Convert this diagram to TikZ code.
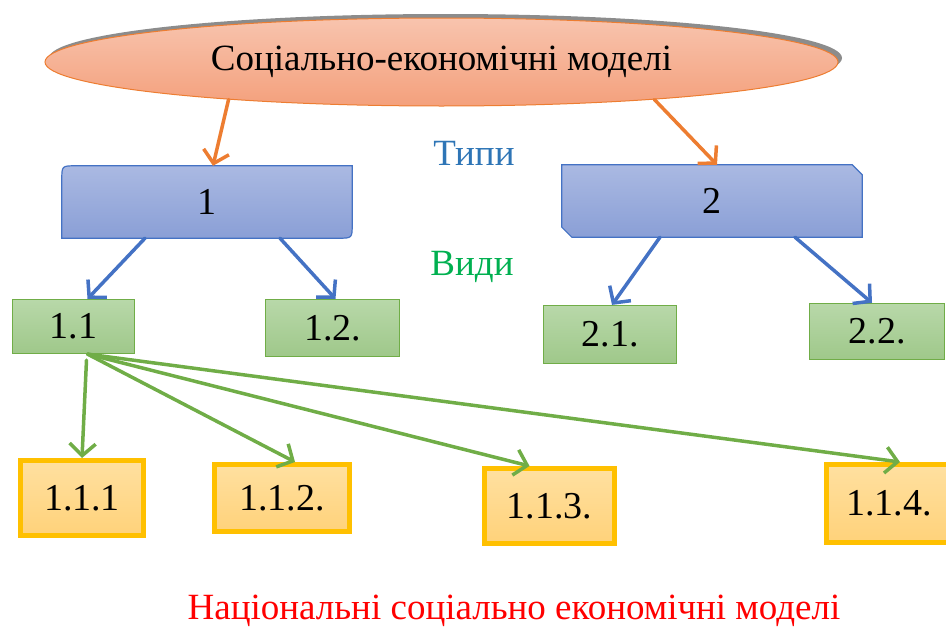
\documentclass[tikz,border=0pt]{standalone}
\usepackage{fontspec}
\setmainfont{Liberation Serif}
\usetikzlibrary{arrows.meta,shapes.geometric,shadows,calc,backgrounds}
\definecolor{ellborder}{HTML}{ED7D31}
\definecolor{elltop}{HTML}{F8C4AE}
\definecolor{ellbot}{HTML}{F4A07C}
\definecolor{bluedge}{HTML}{4472C4}
\definecolor{bluetop}{HTML}{AAB9E2}
\definecolor{bluebot}{HTML}{8A9FD6}
\definecolor{greenedge}{HTML}{70AD47}
\definecolor{greentop}{HTML}{B8D8A9}
\definecolor{greenbot}{HTML}{9FC88A}
\definecolor{goldedge}{HTML}{FFC000}
\definecolor{goldtop}{HTML}{FFE0A0}
\definecolor{goldbot}{HTML}{FFD27A}
\definecolor{tipycol}{HTML}{2E75B6}
\definecolor{vydycol}{HTML}{00B050}

\begin{document}
\begin{tikzpicture}[x=1pt,y=-1pt,
  bigfont/.style={font=\fontsize{38}{40}\selectfont},
  blueshape/.style={draw=bluedge,line width=1.2pt,top color=bluetop,bottom color=bluebot},
  greenbox/.style={bigfont,draw=greenedge,line width=1.2pt,top color=greentop,bottom color=greenbot,inner sep=0pt},
  goldbox/.style={bigfont,draw=goldedge,line width=5pt,top color=goldtop,bottom color=goldbot,inner sep=0pt},
  barb/.style={-{Straight Barb[length=12pt,width=26pt]},line width=3.5pt,line cap=round}]
\useasboundingbox (0,0) rectangle (946,632);

\node[ellipse,minimum width=793,minimum height=88,inner sep=0pt,draw=ellborder,line width=1pt,
  top color=elltop,bottom color=ellbot,
  drop shadow={shadow xshift=4pt,shadow yshift=4pt,fill=gray!90,opacity=1},
  font=\fontsize{37}{40}\selectfont] (model) at (441.5,62) {Соціально-економічні моделі};

\node[bigfont,minimum width=290,minimum height=72,inner sep=0pt] (t1) at (207,202) {1};
\node[bigfont,minimum width=300,minimum height=72,inner sep=0pt] (t2) at (712,201) {2};
\begin{scope}[on background layer]
\draw[blueshape] ($(t1.north west)+(0,14)$) .. controls (t1.north west) .. ($(t1.north west)+(14,0)$)
  -- (t1.north east) -- ($(t1.south east)+(0,-14)$) .. controls (t1.south east) .. ($(t1.south east)+(-14,0)$)
  -- (t1.south west) -- cycle;
\draw[blueshape] (t2.north west) -- ($(t2.north east)+(-10,0)$) -- ($(t2.north east)+(0,10)$)
  -- (t2.south east) -- ($(t2.south west)+(10,0)$) -- ($(t2.south west)+(0,-10)$) -- cycle;
\end{scope}

\node[font=\fontsize{37}{40}\selectfont,text=tipycol] (tipy) at (474,153) {Типи};
\node[font=\fontsize{37}{40}\selectfont,text=vydycol] (vydy) at (472,267) {Види};

\node[greenbox,minimum width=122,minimum height=54] (v11) at (73.5,326.5) {1.1};
\node[greenbox,minimum width=134,minimum height=57] (v12) at (332.5,328) {1.2.};
\node[greenbox,minimum width=133,minimum height=58] (v21) at (610,334.5) {2.1.};
\node[greenbox,minimum width=135,minimum height=56] (v22) at (877,331.5) {2.2.};

\node[goldbox,minimum width=123,minimum height=75] (m111) at (82,498) {1.1.1};
\node[goldbox,minimum width=135,minimum height=67] (m112) at (282,498) {1.1.2.};
\node[goldbox,minimum width=130,minimum height=75] (m113) at (549.5,506) {1.1.3.};
\node[goldbox,minimum width=125,minimum height=78] (m114) at (889,503.5) {1.1.4.};

\draw[barb,ellborder] (model.190) -- ([xshift=6pt]t1.north);
\draw[barb,ellborder] (model.350) -- ([xshift=5pt]t2.north);

\draw[barb,bluedge] ([xshift=-62pt]t1.south) -- ([xshift=14pt]v11.north);
\draw[barb,bluedge] ([xshift=73pt]t1.south) -- ([xshift=3pt]v12.north);
\draw[barb,bluedge] ([xshift=-52pt]t2.south) -- ([xshift=2pt]v21.north);
\draw[barb,bluedge] ([xshift=83pt]t2.south) -- ([xshift=-5pt]v22.north);

\draw[barb,greenedge] ([xshift=13pt,yshift=-6pt]v11.south) -- (m111.north);
\draw[barb,greenedge] ([xshift=14pt]v11.south) -- ([xshift=13pt]m112.north);
\draw[barb,greenedge] ([xshift=14pt]v11.south) -- ([xshift=-20pt]m113.north);
\draw[barb,greenedge] ([xshift=14pt]v11.south) -- ([xshift=11pt]m114.north);

\node[font=\fontsize{37}{40}\selectfont,text=red] (caption) at (514,611) {Національні соціально економічні моделі};
\end{tikzpicture}
\end{document}
